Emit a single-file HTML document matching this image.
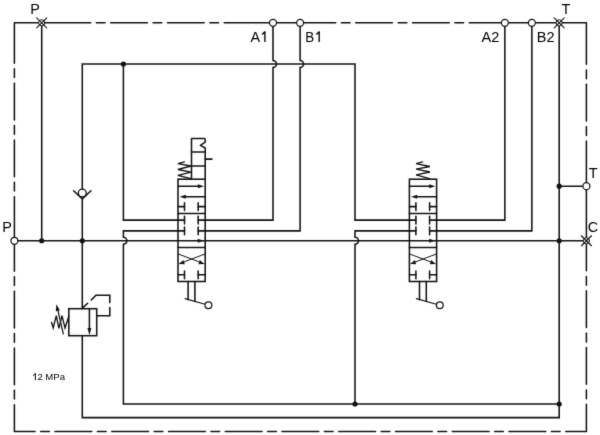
<!DOCTYPE html>
<html><head><meta charset="utf-8"><style>
html,body{margin:0;padding:0;background:#fff;}
svg{display:block;}
text{font-family:"Liberation Sans",sans-serif;fill:#000;}
</style></head><body>
<svg width="600" height="435" viewBox="0 0 600 435">
<defs><filter id="soft" color-interpolation-filters="sRGB" filterUnits="userSpaceOnUse" x="0" y="0" width="600" height="435"><feConvolveMatrix order="3" kernelMatrix="0.01 0.08 0.01 0.08 0.64 0.08 0.01 0.08 0.01" edgeMode="duplicate" preserveAlpha="true"/></filter></defs>
<g filter="url(#soft)">
<rect x="0" y="0" width="600" height="435" fill="#fff"/>
<g stroke="#141414" fill="none" stroke-linecap="round">
<polyline points="14.4,63.23 14.4,22.8 90.7,22.8" stroke-width="1.55" fill="none" stroke-linejoin="round"/>
<line x1="96.35" y1="22.8" x2="105.05" y2="22.8" stroke-width="1.55"/>
<line x1="110.7" y1="22.8" x2="147.45" y2="22.8" stroke-width="1.55"/>
<line x1="153.1" y1="22.8" x2="161.8" y2="22.8" stroke-width="1.55"/>
<line x1="167.45" y1="22.8" x2="204.2" y2="22.8" stroke-width="1.55"/>
<line x1="209.85" y1="22.8" x2="218.55" y2="22.8" stroke-width="1.55"/>
<line x1="224.19999999999996" y1="22.8" x2="335.725" y2="22.8" stroke-width="1.55"/>
<line x1="341.38" y1="22.8" x2="350.08" y2="22.8" stroke-width="1.55"/>
<line x1="355.73" y1="22.8" x2="392.48" y2="22.8" stroke-width="1.55"/>
<line x1="398.13" y1="22.8" x2="406.83" y2="22.8" stroke-width="1.55"/>
<line x1="412.48" y1="22.8" x2="449.23" y2="22.8" stroke-width="1.55"/>
<line x1="454.88" y1="22.8" x2="463.58" y2="22.8" stroke-width="1.55"/>
<polyline points="469.23,22.8 586.4,22.8 586.4,64.32" stroke-width="1.55" fill="none" stroke-linejoin="round"/>
<line x1="586.4" y1="69.97" x2="586.4" y2="78.67" stroke-width="1.55"/>
<line x1="586.4" y1="84.32" x2="586.4" y2="121.07" stroke-width="1.55"/>
<line x1="586.4" y1="126.72" x2="586.4" y2="135.42" stroke-width="1.55"/>
<line x1="586.4" y1="141.075" x2="586.4" y2="270.77500000000003" stroke-width="1.55"/>
<line x1="586.4" y1="276.43" x2="586.4" y2="285.13" stroke-width="1.55"/>
<line x1="586.4" y1="290.78" x2="586.4" y2="327.53" stroke-width="1.55"/>
<line x1="586.4" y1="333.18" x2="586.4" y2="341.88" stroke-width="1.55"/>
<line x1="586.4" y1="347.53" x2="586.4" y2="384.28" stroke-width="1.55"/>
<line x1="586.4" y1="389.93" x2="586.4" y2="398.63" stroke-width="1.55"/>
<polyline points="586.4,404.28 586.4,431.5 565.78,431.5" stroke-width="1.55" fill="none" stroke-linejoin="round"/>
<line x1="40.68" y1="431.5" x2="49.38" y2="431.5" stroke-width="1.55"/>
<line x1="55.03" y1="431.5" x2="91.78" y2="431.5" stroke-width="1.55"/>
<line x1="97.43" y1="431.5" x2="106.12" y2="431.5" stroke-width="1.55"/>
<line x1="111.78" y1="431.5" x2="148.53" y2="431.5" stroke-width="1.55"/>
<line x1="154.18" y1="431.5" x2="162.88" y2="431.5" stroke-width="1.55"/>
<line x1="168.53" y1="431.5" x2="205.28" y2="431.5" stroke-width="1.55"/>
<line x1="210.93" y1="431.5" x2="219.62" y2="431.5" stroke-width="1.55"/>
<line x1="225.28" y1="431.5" x2="262.03" y2="431.5" stroke-width="1.55"/>
<line x1="267.68" y1="431.5" x2="276.38" y2="431.5" stroke-width="1.55"/>
<line x1="282.03" y1="431.5" x2="318.78" y2="431.5" stroke-width="1.55"/>
<line x1="324.43" y1="431.5" x2="333.13" y2="431.5" stroke-width="1.55"/>
<line x1="338.78" y1="431.5" x2="375.53" y2="431.5" stroke-width="1.55"/>
<line x1="381.18" y1="431.5" x2="389.88" y2="431.5" stroke-width="1.55"/>
<line x1="395.53" y1="431.5" x2="432.28" y2="431.5" stroke-width="1.55"/>
<line x1="437.93" y1="431.5" x2="446.63" y2="431.5" stroke-width="1.55"/>
<line x1="452.28" y1="431.5" x2="489.03" y2="431.5" stroke-width="1.55"/>
<line x1="494.68" y1="431.5" x2="503.38" y2="431.5" stroke-width="1.55"/>
<line x1="509.03" y1="431.5" x2="545.78" y2="431.5" stroke-width="1.55"/>
<line x1="551.43" y1="431.5" x2="560.13" y2="431.5" stroke-width="1.55"/>
<polyline points="35.03,431.5 14.4,431.5 14.4,404.68" stroke-width="1.55" fill="none" stroke-linejoin="round"/>
<line x1="14.4" y1="276.82" x2="14.4" y2="285.53" stroke-width="1.55"/>
<line x1="14.4" y1="291.18" x2="14.4" y2="327.93" stroke-width="1.55"/>
<line x1="14.4" y1="333.58" x2="14.4" y2="342.28" stroke-width="1.55"/>
<line x1="14.4" y1="347.93" x2="14.4" y2="384.68" stroke-width="1.55"/>
<line x1="14.4" y1="390.33" x2="14.4" y2="399.03" stroke-width="1.55"/>
<line x1="14.4" y1="271.175" x2="14.4" y2="196.725" stroke-width="1.55"/>
<line x1="14.4" y1="68.88" x2="14.4" y2="77.57" stroke-width="1.55"/>
<line x1="14.4" y1="83.22" x2="14.4" y2="119.97" stroke-width="1.55"/>
<line x1="14.4" y1="125.62" x2="14.4" y2="134.32" stroke-width="1.55"/>
<line x1="14.4" y1="139.97" x2="14.4" y2="176.72" stroke-width="1.55"/>
<line x1="14.4" y1="182.38" x2="14.4" y2="191.07" stroke-width="1.55"/>
<line x1="41.7" y1="22.8" x2="41.7" y2="240.75" stroke-width="1.55"/>
<line x1="14.4" y1="240.75" x2="586.4" y2="240.75" stroke-width="1.55"/>
<polyline points="82.3,188.9 82.3,64.0 355.0,64.0 355.0,220.1 409.2,220.1" stroke-width="1.55" fill="none"/>
<line x1="82.3" y1="198.9" x2="82.3" y2="308.7" stroke-width="1.55"/>
<polyline points="82.3,335.7 82.3,417.6 559.2,417.6 559.2,22.8" stroke-width="1.55" fill="none"/>
<polyline points="178.0,220.1 123.4,220.1 123.4,64.0" stroke-width="1.55" fill="none"/>
<path d="M178.0,230.85 L123.4,230.85 L123.4,237.25 A3.5,3.5 0 0 1 123.4,244.25 L123.4,404.0 L559.2,404.0" stroke-width="1.55" fill="none"/>
<path d="M409.2,230.85 L355.0,230.85 L355.0,237.25 A3.5,3.5 0 0 1 355.0,244.25 L355.0,404.0" stroke-width="1.55" fill="none"/>
<path d="M273.0,22.8 L273.0,60.5 A3.5,3.5 0 0 1 273.0,67.5 L273.0,220.1 L205,220.1" stroke-width="1.55" fill="none"/>
<path d="M300.1,22.8 L300.1,60.5 A3.5,3.5 0 0 1 300.1,67.5 L300.1,230.85 L205,230.85" stroke-width="1.55" fill="none"/>
<polyline points="504.85,22.8 504.85,220.1 436.8,220.1" stroke-width="1.55" fill="none"/>
<polyline points="531.85,22.8 531.85,230.85 436.8,230.85" stroke-width="1.55" fill="none"/>
<line x1="559.2" y1="186.2" x2="586.4" y2="186.2" stroke-width="1.55"/>
<circle cx="41.7" cy="240.75" r="2.6" fill="#141414" stroke="none"/>
<circle cx="82.3" cy="240.75" r="2.6" fill="#141414" stroke="none"/>
<circle cx="559.2" cy="240.75" r="2.6" fill="#141414" stroke="none"/>
<circle cx="123.4" cy="64.0" r="2.6" fill="#141414" stroke="none"/>
<circle cx="559.2" cy="186.2" r="2.6" fill="#141414" stroke="none"/>
<circle cx="355.0" cy="404.0" r="2.6" fill="#141414" stroke="none"/>
<circle cx="559.2" cy="404.0" r="2.6" fill="#141414" stroke="none"/>
<rect x="178.0" y="179.2" width="27.2" height="102.30000000000001" fill="none" stroke-width="1.55"/>
<line x1="178.0" y1="213.55" x2="205.2" y2="213.55" stroke-width="1.55"/>
<line x1="178.0" y1="247.5" x2="205.2" y2="247.5" stroke-width="1.55"/>
<line x1="178.0" y1="186.2" x2="200.2" y2="186.2" stroke-width="1.55"/>
<polygon points="204.0,186.2 197.8,188.2 197.8,184.2" fill="#141414" stroke="none"/>
<line x1="183.0" y1="196.7" x2="205.2" y2="196.7" stroke-width="1.55"/>
<polygon points="179.6,196.7 185.8,194.7 185.8,198.7" fill="#141414" stroke="none"/>
<line x1="178.0" y1="206.6" x2="184.5" y2="206.6" stroke-width="1.55"/>
<line x1="184.5" y1="202.7" x2="184.5" y2="210.5" stroke-width="1.55"/>
<line x1="198.2" y1="206.6" x2="205.2" y2="206.6" stroke-width="1.55"/>
<line x1="198.2" y1="202.7" x2="198.2" y2="210.5" stroke-width="1.55"/>
<line x1="178.0" y1="220.1" x2="184.5" y2="220.1" stroke-width="1.55"/>
<line x1="184.5" y1="216.2" x2="184.5" y2="224.0" stroke-width="1.55"/>
<line x1="198.2" y1="220.1" x2="205.2" y2="220.1" stroke-width="1.55"/>
<line x1="198.2" y1="216.2" x2="198.2" y2="224.0" stroke-width="1.55"/>
<line x1="178.0" y1="230.85" x2="184.5" y2="230.85" stroke-width="1.55"/>
<line x1="184.5" y1="226.95" x2="184.5" y2="234.75" stroke-width="1.55"/>
<line x1="198.2" y1="230.85" x2="205.2" y2="230.85" stroke-width="1.55"/>
<line x1="198.2" y1="226.95" x2="198.2" y2="234.75" stroke-width="1.55"/>
<polygon points="203.7,240.75 197.7,242.85 197.7,238.65" fill="#141414" stroke="none"/>
<line x1="178.3" y1="254.0" x2="203.7" y2="263.6" stroke-width="1.0"/>
<line x1="204.89999999999998" y1="254.0" x2="179.5" y2="263.6" stroke-width="1.0"/>
<polygon points="179.2,264.0 183.23,260.05 184.84,264.14" fill="#141414" stroke="none"/>
<polygon points="204.0,264.0 198.36,264.14 199.97,260.05" fill="#141414" stroke="none"/>
<line x1="178.0" y1="274.8" x2="184.5" y2="274.8" stroke-width="1.55"/>
<line x1="184.5" y1="270.90000000000003" x2="184.5" y2="278.7" stroke-width="1.55"/>
<line x1="198.2" y1="274.8" x2="205.2" y2="274.8" stroke-width="1.55"/>
<line x1="198.2" y1="270.90000000000003" x2="198.2" y2="278.7" stroke-width="1.55"/>
<line x1="188.1" y1="281.5" x2="188.1" y2="299.6" stroke-width="1.55"/>
<line x1="194.9" y1="281.5" x2="194.9" y2="301.5" stroke-width="1.55"/>
<line x1="185.0" y1="298.6" x2="205.0" y2="304.2" stroke-width="1.15"/>
<circle cx="208.4" cy="305.2" r="3.4" fill="#fff" stroke-width="1.25"/>
<path d="M191.5,179.2 L191.5,138.5 L204.2,138.5 Q205.2,138.5 205.2,139.5 L205.2,142.2 L200.39999999999998,145.4 L205.2,148.0 L205.2,179.2" fill="none" stroke-width="1.55" stroke-linejoin="round"/>
<line x1="191.5" y1="151.9" x2="205.2" y2="151.9" stroke-width="1.55"/>
<line x1="191.5" y1="166.0" x2="205.2" y2="166.0" stroke-width="1.55"/>
<line x1="205.2" y1="159.1" x2="212.0" y2="159.1" stroke-width="1.55"/>
<polyline points="184.4,161.9 177.9,163.6 191,166 177.9,169.5 191,172.2 177.9,175.3 191,178.6" stroke-width="1.3" fill="none"/>
<rect x="409.4" y="179.2" width="27.2" height="102.30000000000001" fill="none" stroke-width="1.55"/>
<line x1="409.4" y1="213.55" x2="436.59999999999997" y2="213.55" stroke-width="1.55"/>
<line x1="409.4" y1="247.5" x2="436.59999999999997" y2="247.5" stroke-width="1.55"/>
<line x1="409.4" y1="186.2" x2="431.59999999999997" y2="186.2" stroke-width="1.55"/>
<polygon points="435.4,186.2 429.2,188.2 429.2,184.2" fill="#141414" stroke="none"/>
<line x1="414.4" y1="196.7" x2="436.59999999999997" y2="196.7" stroke-width="1.55"/>
<polygon points="411.0,196.7 417.2,194.7 417.2,198.7" fill="#141414" stroke="none"/>
<line x1="409.4" y1="206.6" x2="415.9" y2="206.6" stroke-width="1.55"/>
<line x1="415.9" y1="202.7" x2="415.9" y2="210.5" stroke-width="1.55"/>
<line x1="429.59999999999997" y1="206.6" x2="436.59999999999997" y2="206.6" stroke-width="1.55"/>
<line x1="429.59999999999997" y1="202.7" x2="429.59999999999997" y2="210.5" stroke-width="1.55"/>
<line x1="409.4" y1="220.1" x2="415.9" y2="220.1" stroke-width="1.55"/>
<line x1="415.9" y1="216.2" x2="415.9" y2="224.0" stroke-width="1.55"/>
<line x1="429.59999999999997" y1="220.1" x2="436.59999999999997" y2="220.1" stroke-width="1.55"/>
<line x1="429.59999999999997" y1="216.2" x2="429.59999999999997" y2="224.0" stroke-width="1.55"/>
<line x1="409.4" y1="230.85" x2="415.9" y2="230.85" stroke-width="1.55"/>
<line x1="415.9" y1="226.95" x2="415.9" y2="234.75" stroke-width="1.55"/>
<line x1="429.59999999999997" y1="230.85" x2="436.59999999999997" y2="230.85" stroke-width="1.55"/>
<line x1="429.59999999999997" y1="226.95" x2="429.59999999999997" y2="234.75" stroke-width="1.55"/>
<polygon points="435.1,240.75 429.1,242.85 429.1,238.65" fill="#141414" stroke="none"/>
<line x1="409.7" y1="254.0" x2="435.09999999999997" y2="263.6" stroke-width="1.0"/>
<line x1="436.29999999999995" y1="254.0" x2="410.9" y2="263.6" stroke-width="1.0"/>
<polygon points="410.6,264.0 414.63,260.05 416.24,264.14" fill="#141414" stroke="none"/>
<polygon points="435.4,264.0 429.76,264.14 431.37,260.05" fill="#141414" stroke="none"/>
<line x1="409.4" y1="274.8" x2="415.9" y2="274.8" stroke-width="1.55"/>
<line x1="415.9" y1="270.90000000000003" x2="415.9" y2="278.7" stroke-width="1.55"/>
<line x1="429.59999999999997" y1="274.8" x2="436.59999999999997" y2="274.8" stroke-width="1.55"/>
<line x1="429.59999999999997" y1="270.90000000000003" x2="429.59999999999997" y2="278.7" stroke-width="1.55"/>
<line x1="419.5" y1="281.5" x2="419.5" y2="299.6" stroke-width="1.55"/>
<line x1="426.29999999999995" y1="281.5" x2="426.29999999999995" y2="301.5" stroke-width="1.55"/>
<line x1="416.4" y1="298.6" x2="436.4" y2="304.2" stroke-width="1.15"/>
<circle cx="439.79999999999995" cy="305.2" r="3.4" fill="#fff" stroke-width="1.25"/>
<polyline points="422.6,161.9 416.1,163.7 429.9,166.5 416.1,169.2 429.9,172 416.1,174.8 429.5,178.6" stroke-width="1.3" fill="none"/>
<circle cx="82.3" cy="193.0" r="3.95" fill="none" stroke-width="1.3"/>
<polyline points="73.6,190.8 82.3,198.9 91.0,190.8" stroke-width="1.55" fill="none"/>
<rect x="68.8" y="308.7" width="27.9" height="27" fill="none" stroke-width="1.55"/>
<line x1="89.4" y1="308.7" x2="89.4" y2="330" stroke-width="1.55"/>
<polygon points="89.4,335.3 87.4,328.0 91.4,328.0" fill="#141414" stroke="none"/>
<line x1="82.6" y1="307.9" x2="87.7" y2="303.2" stroke-width="1.55"/>
<line x1="91.3" y1="299.9" x2="96" y2="295.2" stroke-width="1.55"/>
<polyline points="96,295.2 109.8,295.2 109.8,302.6" stroke-width="1.55" fill="none"/>
<polyline points="109.8,307.6 109.8,315.7 96.7,315.7" stroke-width="1.55" fill="none"/>
<polyline points="51.5,322.3 53.2,328 56.3,315.7 58.9,328.4 62,315.7 65,328 68.8,316.2" stroke-width="1.35" fill="none"/>
<line x1="63.3" y1="334.0" x2="57.6" y2="309.0" stroke-width="1.2"/>
<polygon points="56.3,304.2 59.91,310.33 55.82,311.3" fill="#141414" stroke="none"/>
<circle cx="273.0" cy="22.8" r="3.5" fill="#fff" stroke-width="1.25"/>
<circle cx="300.1" cy="22.8" r="3.5" fill="#fff" stroke-width="1.25"/>
<circle cx="504.85" cy="22.8" r="3.5" fill="#fff" stroke-width="1.25"/>
<circle cx="531.85" cy="22.8" r="3.5" fill="#fff" stroke-width="1.25"/>
<circle cx="14.4" cy="240.75" r="3.5" fill="#fff" stroke-width="1.25"/>
<circle cx="586.4" cy="186.2" r="3.5" fill="#fff" stroke-width="1.25"/>
<circle cx="41.7" cy="22.8" r="3.1" fill="#fff" stroke-width="1.0"/>
<line x1="36.7" y1="17.8" x2="46.7" y2="27.8" stroke-width="1.1"/>
<line x1="36.7" y1="27.8" x2="46.7" y2="17.8" stroke-width="1.1"/>
<circle cx="559.2" cy="22.8" r="3.1" fill="#fff" stroke-width="1.0"/>
<line x1="554.2" y1="17.8" x2="564.2" y2="27.8" stroke-width="1.1"/>
<line x1="554.2" y1="27.8" x2="564.2" y2="17.8" stroke-width="1.1"/>
<circle cx="586.4" cy="240.75" r="3.1" fill="#fff" stroke-width="1.0"/>
<line x1="581.4" y1="235.75" x2="591.4" y2="245.75" stroke-width="1.1"/>
<line x1="581.4" y1="245.75" x2="591.4" y2="235.75" stroke-width="1.1"/>
</g>
<g>
<text transform="translate(30.2,13.9) scale(1.0,1.065)" font-size="14.5">P</text>
<text transform="translate(561.6,14.3) scale(1.0,1.07)" font-size="14.5">T</text>
<text transform="translate(250.6,41.6) scale(1.0,1.04)" font-size="14.5">A</text>
<path d="M264.9,41.9 L264.9,31.4 M265.09999999999997,31.599999999999998 L262.09999999999997,34.4" stroke="#000" stroke-width="1.35" fill="none"/>
<text transform="translate(305.3,41.5) scale(0.92,1.055)" font-size="14.5">B</text>
<path d="M319.2,41.9 L319.2,31.4 M319.4,31.599999999999998 L316.4,34.4" stroke="#000" stroke-width="1.35" fill="none"/>
<text transform="translate(481.6,41.5) scale(1.0,1.04)" font-size="14.5">A2</text>
<text transform="translate(536.8,41.5) scale(1.0,1.04)" font-size="14.5">B2</text>
<text transform="translate(2.3,232.3) scale(1.0,1.065)" font-size="14.5">P</text>
<text transform="translate(588.7,178.0) scale(1.0,1.04)" font-size="14.5">T</text>
<text transform="translate(587.7,232.0) scale(1.0,1.04)" font-size="14.5">C</text>
<text transform="translate(37.4,380.1) scale(1.0,1.03)" font-size="9.55">2 MPa</text>
<path d="M35.35,380.2 L35.35,373.3 M35.550000000000004,373.5 L33.050000000000004,375.7" stroke="#000" stroke-width="1.0" fill="none"/>
</g>
</g>
</svg>
</body></html>
